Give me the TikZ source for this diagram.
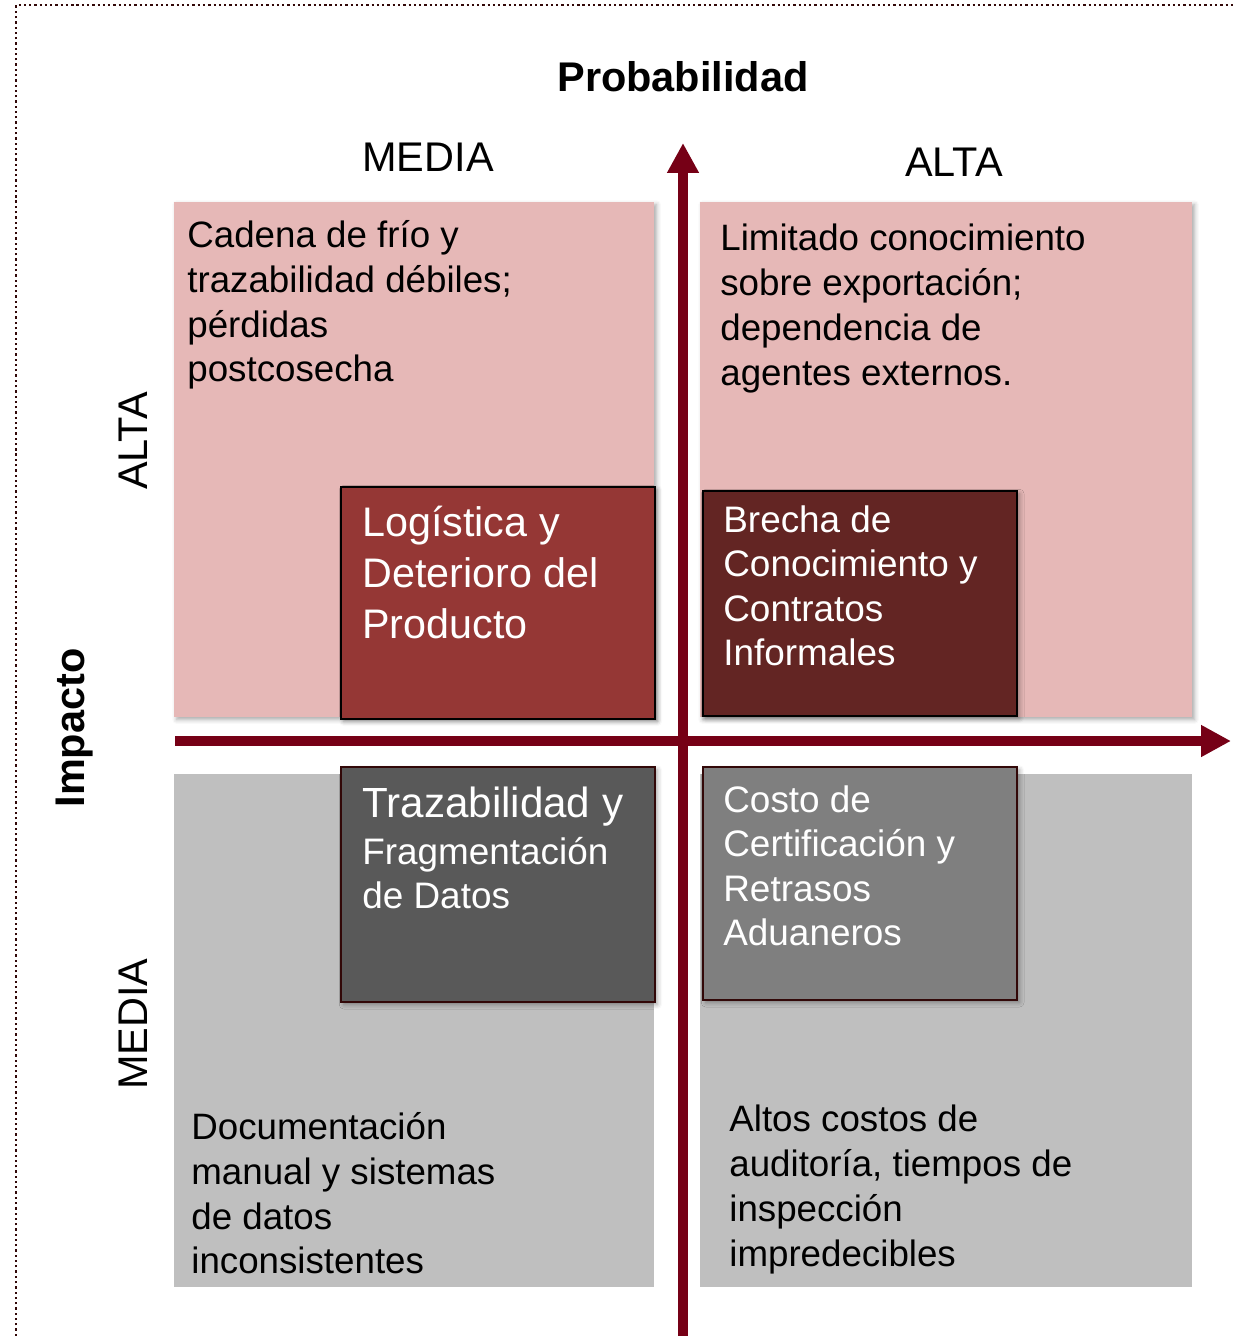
\documentclass[tikz,border=0pt]{standalone}
\usepackage{fontspec}
\setmainfont{Liberation Sans}
\usetikzlibrary{arrows.meta,shadows.blur}
\definecolor{axisred}{RGB}{118,0,22}
\definecolor{framec}{RGB}{50,8,8}
\definecolor{pinkq}{HTML}{E6B8B7}
\definecolor{grayq}{HTML}{BFBFBF}
\definecolor{redbox}{HTML}{953735}
\definecolor{darkred}{HTML}{632523}
\definecolor{darkgray}{HTML}{595959}
\definecolor{midgray}{HTML}{7F7F7F}
\begin{document}
\begin{tikzpicture}[x=0.02cm,y=-0.02cm,
  quad/.style={inner sep=0pt,outer sep=0pt},
  soft/.style={blur shadow={shadow xshift=1.5pt,shadow yshift=-1.5pt,shadow blur radius=2.5pt,shadow opacity=35}},
  inbox/.style={quad,soft,line width=1.2pt,minimum width=6.28cm},
  txt/.style={anchor=north west,inner sep=0pt,align=left,font=\fontsize{20.9}{25.5}\selectfont},
  intxt/.style={anchor=north west,inner sep=0pt,align=left,text=white,font=\fontsize{21}{25.3}\selectfont},
  lbl/.style={inner sep=0pt,font=\fontsize{23.6}{28}\selectfont},
  axis/.style={axisred,line width=5.6pt,-{Triangle[length=0.6cm,width=0.6cm]}}]
\useasboundingbox (0,0) rectangle (1233,1336);
\draw[line width=1.3pt,dash pattern=on 1.3pt off 1.7pt,color=framec] (16,1336)--(16,5)--(1233,5);
% quadrants
\node[quad,soft,fill=pinkq,minimum width=9.6cm,minimum height=10.3cm] (qtl) at (414,459.5) {};
\node[quad,soft,fill=pinkq,minimum width=9.84cm,minimum height=10.3cm] (qtr) at (946,459.5) {};
\node[quad,fill=grayq,minimum width=9.6cm,minimum height=10.26cm] (qbl) at (414,1030.5) {};
\node[quad,fill=grayq,minimum width=9.84cm,minimum height=10.26cm] (qbr) at (946,1030.5) {};
\node[txt] (ttl) at (187,220) {Cadena de frío y\\trazabilidad débiles;\\pérdidas\\postcosecha};
\node[txt] (ttr) at (720,224) {Limitado conocimiento\\sobre exportación;\\dependencia de\\agentes externos.};
\node[txt] (tbl) at (191,1112) {Documentación\\manual y sistemas\\de datos\\inconsistentes};
\node[txt] (tbr) at (729,1105) {Altos costos de\\auditoría, tiempos de\\inspección\\impredecibles};
% risk boxes
\node[inbox,draw=black,fill=redbox,minimum height=4.64cm] (log) at (498,603) {};
\node[inbox,draw=black,fill=darkred,minimum height=4.5cm] (bre) at (860,603.5) {};
\node[inbox,draw=framec,fill=darkgray,minimum height=4.7cm] (tra) at (498,884.5) {};
\node[inbox,draw=framec,fill=midgray,minimum height=4.66cm] (cos) at (860,883.5) {};
\node[intxt,font=\fontsize{23.5}{28.9}\selectfont] (tlog) at (362,506) {Logística y\\Deterioro del\\Producto};
\node[intxt] (tbre) at (723,505) {Brecha de\\Conocimiento y\\Contratos\\Informales};
\node[intxt] (ttra) at (362,787) {{\fontsize{24}{27}\selectfont Trazabilidad y}\\[1pt]Fragmentación\\de Datos};
\node[intxt] (tcos) at (723,785) {Costo de\\Certificación y\\Retrasos\\Aduaneros};
% axes
\coordinate (ybot) at (683,1336);
\coordinate (ytop) at (683,143);
\coordinate (xleft) at (175,741);
\coordinate (xright) at (1231,741);
\draw[axis] (ybot)--(ytop);
\draw[axis] (xleft)--(xright);
% labels
\node[lbl,font=\fontsize{23.6}{28}\bfseries] (prob) at (683,77) {Probabilidad};
\node[lbl] (pmed) at (428,157) {MEDIA};
\node[lbl] (palt) at (954,162) {ALTA};
\node[lbl,font=\fontsize{23.6}{28}\bfseries,rotate=90] (imp) at (75,728) {Impacto};
\node[lbl,rotate=90] (ialt) at (133,441) {ALTA};
\node[lbl,rotate=90] (imed) at (133,1024) {MEDIA};
\end{tikzpicture}
\end{document}
